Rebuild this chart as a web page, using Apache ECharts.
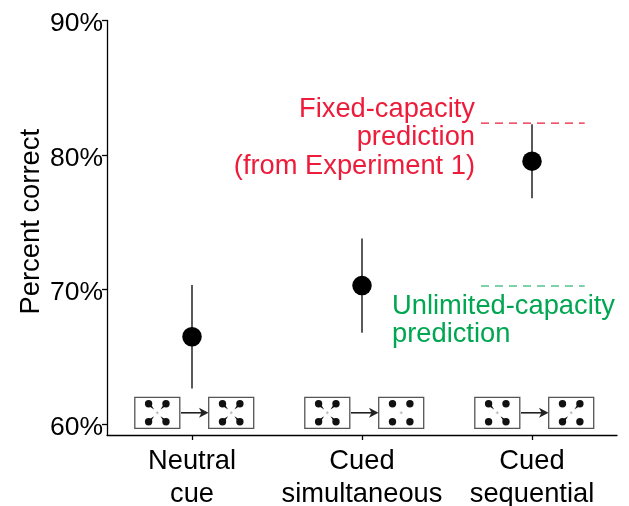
<!DOCTYPE html>
<html><head><meta charset="utf-8">
<style>html,body{margin:0;padding:0;background:#fff}#c{width:629px;height:506px}</style>
<script src="https://cdn.jsdelivr.net/npm/echarts@6/dist/echarts.min.js"></script>
</head><body><div id="c"></div>
<script>
const categories = ['Neutral\ncue', 'Cued\nsimultaneous', 'Cued\nsequential'];
const yTicks = [60, 70, 80, 90];
const means = [66.5, 70.3, 79.55];
const errLow = [62.65, 66.8, 76.8];
const errHigh = [70.35, 73.8, 82.3];
const fixedPrediction = [[2.7, 82.38], [3.31, 82.38]];
const unlimitedPrediction = [[2.7, 70.27], [3.31, 70.27]];
const pictogramLevel = 60.85;
// tails per frame: which of the corners [UL, UR, LL, LR] have a tail
const frameA = [[1,1,1,1],[1,1,1,1],[1,0,0,1]];
const frameB = [[1,1,1,1],[0,0,0,0],[0,1,1,0]];
const INK = '#111';
const RED = '#ed1c3a';
const GREEN = '#00a651';
const FONT = '"Liberation Sans", Arial, sans-serif';

function frame(cx, cy, tails) {
  const out = [{type:'rect', shape:{x:cx-22.5, y:cy-15.5, width:45, height:31},
    style:{fill:'#fff', stroke:'#555', lineWidth:1.3}}];
  out.push({type:'line', shape:{x1:cx-1.5,y1:cy,x2:cx+1.5,y2:cy}, style:{stroke:'#aaa',lineWidth:0.8}});
  out.push({type:'line', shape:{x1:cx,y1:cy-1.5,x2:cx,y2:cy+1.5}, style:{stroke:'#aaa',lineWidth:0.8}});
  [[-1,-1],[1,-1],[-1,1],[1,1]].forEach((s,i)=>{
    const dx = cx+s[0]*8.7, dy = cy+s[1]*9;
    out.push({type:'circle', shape:{cx:dx, cy:dy, r:3.7}, style:{fill:INK}});
    if (tails[i]) {
      const ex = cx+s[0]*3.2, ey = cy+s[1]*3.4;
      out.push({type:'polygon', shape:{points:[[dx+s[0]*1.3,dy-s[1]*1.3],[dx-s[0]*1.3,dy+s[1]*1.3],[ex,ey]]},
        style:{fill:INK}});
    }
  });
  return out;
}

const chart = echarts.init(document.getElementById('c'), null, {renderer:'canvas'});
const axisLine = {show:true, onZero:false, lineStyle:{color:'#000', width:1.3}};
const tick = {show:true, length:5, lineStyle:{color:'#000', width:1.3}};
chart.setOption({
  animation:false,
  textStyle:{fontFamily:FONT},
  grid:{left:107, right:12, top:20.5, bottom:71, outerBoundsMode:'none'},
  xAxis:[
    {type:'category', data:categories, boundaryGap:true, axisLine,
     axisTick:Object.assign({alignWithLabel:true}, tick),
     splitLine:{show:false},
     axisLabel:{fontSize:27.3, color:'#000', lineHeight:33, margin:10, fontFamily:FONT, interval:0}},
    {type:'value', min:0.5, max:3.5, show:false, splitLine:{show:false}}
  ],
  yAxis:{type:'value', min:59.2, max:90, axisLine, splitLine:{show:false},
    axisTick:Object.assign({customValues:yTicks}, tick),
    axisLabel:{customValues:yTicks, formatter:v=>v+'%', fontSize:26.5, color:'#000', margin:4, fontFamily:FONT, verticalAlign:'top', lineHeight:7},
    name:'Percent correct', nameLocation:'middle', nameGap:62, nameMoveOverlap:false,
    nameTextStyle:{fontSize:27.4, color:'#000', fontFamily:FONT, padding:[0,0,0,12]}},
  series:[
    {type:'custom', coordinateSystem:'cartesian2d', xAxisIndex:0, silent:true, z:2,
     data:categories.map((c,i)=>[i, errLow[i], errHigh[i]]),
     encode:{x:0,y:[1,2]},
     renderItem(p,api){
       const a=api.coord([api.value(0),api.value(1)]), b=api.coord([api.value(0),api.value(2)]);
       return {type:'line', shape:{x1:a[0],y1:a[1],x2:b[0],y2:b[1]}, style:{stroke:'#000',lineWidth:1.3}};
     }},
    {type:'scatter', xAxisIndex:0, data:means.map((v,i)=>[i,v]), symbol:'circle', symbolSize:19.5,
     itemStyle:{color:'#000',opacity:1}, z:3, silent:true},
    {type:'line', xAxisIndex:1, data:fixedPrediction, symbol:'none', silent:true, z:5,
     lineStyle:{color:RED,width:1.2,type:[8,6]}},
    {type:'line', xAxisIndex:1, data:unlimitedPrediction, symbol:'none', silent:true, z:5,
     lineStyle:{color:GREEN,width:1.2,type:[8,6]}},
    {type:'custom', coordinateSystem:'cartesian2d', xAxisIndex:0, silent:true, z:4, clip:false,
     data:categories.map((c,i)=>[i,pictogramLevel]),
     encode:{x:0,y:1},
     renderItem(p,api){
       const i=api.value(0), c=api.coord([i,api.value(1)]);
       const y=c[1];
       const ch=[].concat(frame(c[0]-34.7,y,frameA[i]), frame(c[0]+39.2,y,frameB[i]));
       ch.push({type:'line', shape:{x1:c[0]-11,y1:y,x2:c[0]+10,y2:y}, style:{stroke:'#222',lineWidth:1.6}});
       ch.push({type:'polygon', shape:{points:[[c[0]+16.5,y],[c[0]+7,y-5],[c[0]+9.5,y],[c[0]+7,y+5]]}, style:{fill:'#222'}});
       return {type:'group', children:ch};
     }}
  ],
  graphic:[
    {type:'text', x:475, y:95, style:{text:'Fixed-capacity\nprediction\n(from Experiment 1)', fill:RED,
      font:'27.3px '+FONT, align:'right', verticalAlign:'top', lineHeight:28.5}},
    {type:'text', x:392, y:292, style:{text:'Unlimited-capacity\nprediction', fill:GREEN,
      font:'27.3px '+FONT, align:'left', verticalAlign:'top', lineHeight:28.5}}
  ]
});
</script></body></html>
